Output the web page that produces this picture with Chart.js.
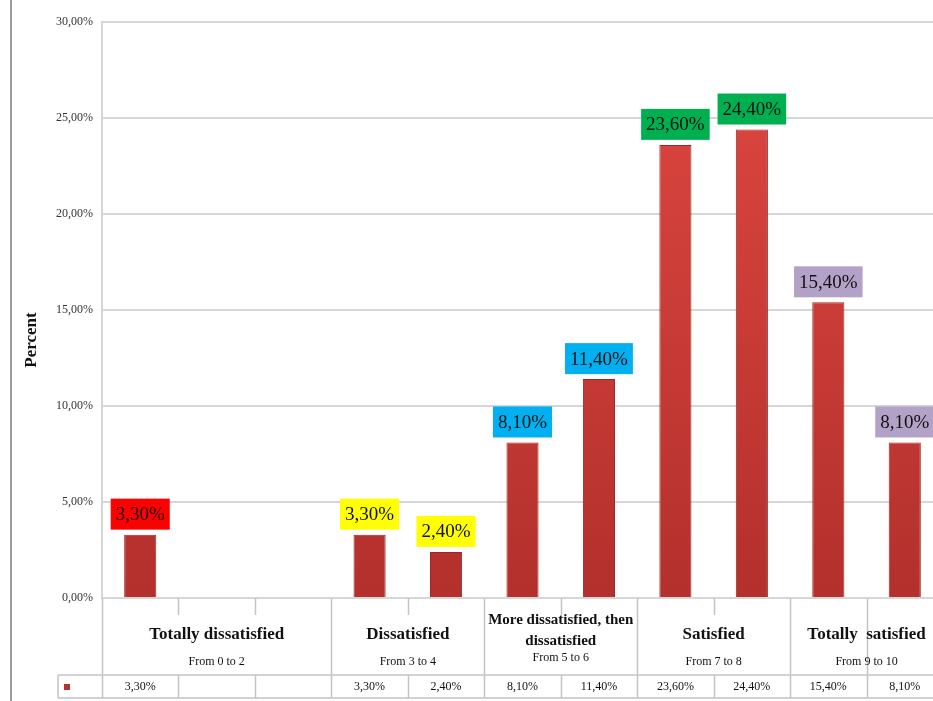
<!DOCTYPE html>
<html>
<head>
<meta charset="utf-8">
<title>Satisfaction by score</title>
<script src="https://cdn.jsdelivr.net/npm/chart.js@4.4.1/dist/chart.umd.min.js"></script>
<style>
  html, body { margin: 0; padding: 0; background: #fff; overflow: hidden; }
  #wrap { position: relative; width: 933px; height: 701px; overflow: hidden; }
  #chart { position: absolute; left: 0; top: 0; }
</style>
</head>
<body>
<div id="wrap"><canvas id="chart"></canvas></div>
<script>
// Data
const scores = ['0', '1', '2', '3', '4', '5', '6', '7', '8', '9', '10'];
const values = [3.3, null, null, 3.3, 2.4, 8.1, 11.4, 23.6, 24.4, 15.4, 8.1];
const groupNames = ['Totally dissatisfied', 'Dissatisfied', 'More dissatisfied, then dissatisfied', 'Satisfied', 'Totally  satisfied'];
const groupRanges = ['From 0 to 2', 'From 3 to 4', 'From 5 to 6', 'From 7 to 8', 'From 9 to 10'];
const groupSpans = [3, 2, 2, 2, 2];
const groupColors = ['#ff0000', '#ffff00', '#00b0f0', '#00b050', '#b3a2c7'];
const yTicks = [0, 5, 10, 15, 20, 25, 30];
const axisTitle = 'Percent';

const SERIF = '"Liberation Serif", "Times New Roman", serif';
const fmt = v => v.toFixed(2).replace('.', ',') + '%';
const fmtShort = v => v.toFixed(2).replace('.', ',') + '%';

// which group each score belongs to
const slotGroup = [];
groupSpans.forEach((n, g) => { for (let i = 0; i < n; i++) slotGroup.push(g); });

const canvas = document.getElementById('chart');
canvas.width = 945;
canvas.height = 701;
canvas.style.width = '945px';
canvas.style.height = '701px';

// labels in coloured boxes above the bars
const barLabels = {
    id: 'barLabels',
    afterDatasetsDraw(chart) {
        const ctx = chart.ctx;
        const meta = chart.getDatasetMeta(0);
        ctx.save();
        ctx.font = '19px ' + SERIF;
        ctx.textAlign = 'center';
        ctx.textBaseline = 'middle';
        meta.data.forEach((bar, i) => {
            if (values[i] == null) return;
            const txt = fmt(values[i]);
            const w = ctx.measureText(txt).width + 10;
            const h = 31;
            const bottom = bar.y - 5;
            ctx.fillStyle = groupColors[slotGroup[i]];
            ctx.fillRect(bar.x - w / 2, bottom - h, w, h);
            ctx.fillStyle = '#111';
            ctx.fillText(txt, bar.x, bottom - h / 2 + 1);
        });
        ctx.restore();
    }
};

// the data table under the plot
const dataTable = {
    id: 'dataTable',
    afterDraw(chart) {
        const ctx = chart.ctx;
        const a = chart.chartArea;
        const x = chart.scales.x;
        const slot = x.getPixelForValue(1) - x.getPixelForValue(0);
        const edge = i => x.getPixelForValue(i) - slot / 2;
        const top = a.bottom;
        const rowTop = 675, rowBottom = 698, keyLeft = 58;

        ctx.save();
        // frame line on the far left
        ctx.strokeStyle = '#9a9a9a';
        ctx.lineWidth = 2;
        ctx.beginPath();
        ctx.moveTo(11, 0);
        ctx.lineTo(11, 701);
        ctx.stroke();

        ctx.strokeStyle = '#c4c4c4';
        ctx.lineWidth = 1.5;
        ctx.beginPath();
        // row lines
        ctx.moveTo(keyLeft, rowTop); ctx.lineTo(edge(scores.length), rowTop);
        ctx.moveTo(keyLeft, rowBottom); ctx.lineTo(edge(scores.length), rowBottom);
        ctx.moveTo(keyLeft, rowTop); ctx.lineTo(keyLeft, rowBottom);
        // slot dividers
        let start = 0;
        const groupEdges = [0];
        groupSpans.forEach(n => { start += n; groupEdges.push(start); });
        for (let i = 0; i <= scores.length; i++) {
            const px = Math.round(edge(i)) + 0.5;
            if (groupEdges.includes(i) || i === scores.length - 1) {
                ctx.moveTo(px, top); ctx.lineTo(px, rowBottom);
            } else {
                ctx.moveTo(px, top); ctx.lineTo(px, top + 17);
                ctx.moveTo(px, rowTop); ctx.lineTo(px, rowBottom);
            }
        }
        ctx.stroke();

        // legend key
        ctx.fillStyle = '#b8312d';
        ctx.fillRect(64, 684, 6, 6);

        // group names and score ranges
        ctx.fillStyle = '#111';
        ctx.textAlign = 'center';
        ctx.textBaseline = 'middle';
        groupNames.forEach((name, g) => {
            const l = edge(groupEdges[g]), r = edge(groupEdges[g + 1]);
            const cx = (l + r) / 2;
            const maxW = r - l - 6;
            ctx.font = 'bold 17px ' + SERIF;
            if (ctx.measureText(name).width <= maxW) {
                ctx.fillText(name, cx, 635);
                ctx.font = '12px ' + SERIF;
                ctx.fillText(groupRanges[g], cx, 662);
            } else {
                ctx.font = 'bold 15px ' + SERIF;
                const words = name.split(' ');
                const lines = [];
                let cur = '';
                words.forEach(w => {
                    const t = cur ? cur + ' ' + w : w;
                    if (ctx.measureText(t).width > maxW * 1.12 && cur) { lines.push(cur); cur = w; }
                    else cur = t;
                });
                lines.push(cur);
                lines.forEach((ln, k) => ctx.fillText(ln, cx, 620 + k * 21, maxW));
                ctx.font = '12px ' + SERIF;
                ctx.fillText(groupRanges[g], cx, 658);
            }
        });

        // values row
        ctx.font = '12px ' + SERIF;
        values.forEach((v, i) => {
            if (v == null) return;
            ctx.fillText(fmtShort(v), x.getPixelForValue(i), 687);
        });

        // axis title
        ctx.translate(32, 340);
        ctx.rotate(-Math.PI / 2);
        ctx.font = 'bold 17px ' + SERIF;
        ctx.fillText(axisTitle, 0, 0);
        ctx.restore();
    }
};

new Chart(canvas, {
    type: 'bar',
    data: {
        labels: scores,
        datasets: [{
            data: values,
            backgroundColor: function(c) {
                const a = c.chart.chartArea;
                if (!a) return '#cf3b35';
                const g = c.chart.ctx.createLinearGradient(0, a.top, 0, a.bottom);
                g.addColorStop(0, '#e04842');
                g.addColorStop(1, '#b3302c');
                return g;
            },
            borderColor: '#9a2824',
            borderWidth: 1,
            barPercentage: 0.42,
            categoryPercentage: 1
        }]
    },
    options: {
        responsive: false,
        animation: false,
        devicePixelRatio: 1,
        layout: { padding: { top: 22, right: 2, bottom: 0, left: 0 } },
        plugins: {
            legend: { display: false },
            tooltip: { enabled: false }
        },
        scales: {
            x: {
                grid: { display: false },
                border: { display: false },
                ticks: { display: false },
                afterFit: s => { s.height = 103; }
            },
            y: {
                min: yTicks[0],
                max: yTicks[yTicks.length - 1],
                ticks: {
                    stepSize: yTicks[1] - yTicks[0],
                    callback: v => fmt(v),
                    color: '#333',
                    padding: 9,
                    font: { family: SERIF, size: 12 }
                },
                grid: { color: '#d6d6d6', lineWidth: 2, drawTicks: false },
                border: { color: '#d6d6d6', width: 2 },
                afterFit: s => { s.width = 102; }
            }
        }
    },
    plugins: [barLabels, dataTable]
});
</script>
</body>
</html>
